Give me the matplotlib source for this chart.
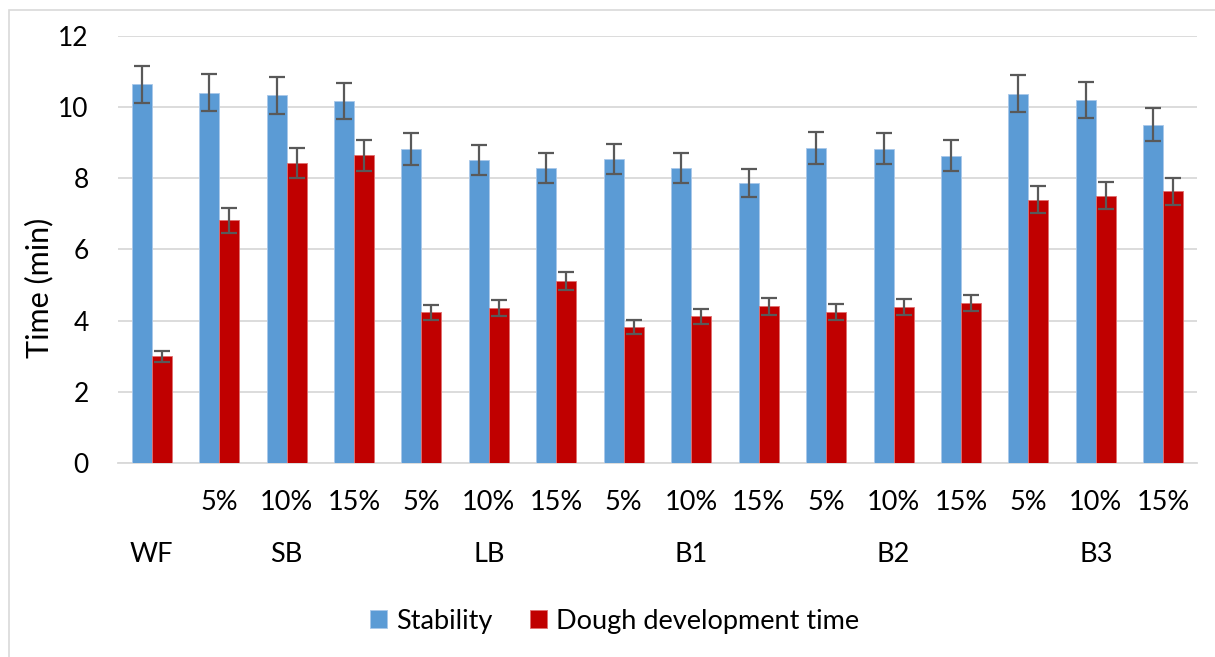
import matplotlib.pyplot as plt
import matplotlib.transforms as mtransforms
from matplotlib.patches import Rectangle
import numpy as np

plt.rcParams['font.family'] = ['Lato', 'DejaVu Sans']

# values
sub_labels = ['', '5%', '10%', '15%', '5%', '10%', '15%', '5%', '10%', '15%',
              '5%', '10%', '15%', '5%', '10%', '15%']
groups = ['WF', 'SB', 'LB', 'B1', 'B2', 'B3']
group_pos = [0, 2, 5, 8, 11, 14]

stability = [10.64, 10.40, 10.34, 10.17, 8.83, 8.52, 8.28, 8.54,
             8.28, 7.86, 8.85, 8.83, 8.64, 10.38, 10.21, 9.51]
stability_err = [0.53, 0.52, 0.52, 0.51, 0.45, 0.43, 0.42, 0.43,
                 0.42, 0.39, 0.45, 0.44, 0.44, 0.52, 0.51, 0.47]
ddt = [3.00, 6.82, 8.42, 8.65, 4.23, 4.35, 5.11, 3.82,
       4.12, 4.40, 4.24, 4.38, 4.50, 7.40, 7.51, 7.63]
ddt_err = [0.16, 0.35, 0.42, 0.44, 0.22, 0.22, 0.26, 0.20,
           0.21, 0.23, 0.22, 0.22, 0.23, 0.38, 0.38, 0.38]

blue = '#5b9bd5'
red = '#c00000'
err_col = '#595959'

fig = plt.figure(figsize=(12.15, 6.57), dpi=100)
ax = fig.add_axes([0.0971, 0.2953, 0.8881, 0.6499])

x = np.arange(len(stability))
w = 0.297
ekw = dict(ecolor=err_col, elinewidth=1.6, capsize=5.5, capthick=1.6)
ax.bar(x - w / 2, stability, w, color=blue, edgecolor='#a9c8ea', linewidth=0.6,
       yerr=stability_err, error_kw=ekw, label='Stability', zorder=3)
ax.bar(x + w / 2, ddt, w, color=red, edgecolor='#e07070', linewidth=0.6,
       yerr=ddt_err, error_kw=ekw, label='Dough development time', zorder=3)

ax.set_xlim(-0.5, len(x) - 0.5)
ax.set_ylim(0, 12)
ax.set_yticks(range(0, 13, 2))
ax.yaxis.grid(True, color='#d9d9d9', linewidth=1.3, zorder=0)
ax.set_axisbelow(True)
for s in ['top', 'right', 'left']:
    ax.spines[s].set_visible(False)
ax.spines['bottom'].set_color('#d9d9d9')
ax.spines['bottom'].set_linewidth(1.3)
ax.tick_params(axis='y', length=0, labelsize=19, pad=21)
ax.tick_params(axis='x', length=0, labelbottom=False)
ax.set_ylabel('Time (min)', fontsize=22)
ax.yaxis.set_label_coords(-0.060, 0.41)

# two-level category labels
trans = mtransforms.blended_transform_factory(ax.transData, fig.transFigure)
for i, lab in enumerate(sub_labels):
    ax.text(i, 1 - 503 / 657, lab, transform=trans, ha='center', va='center',
            fontsize=19.5)
for p, g in zip(group_pos, groups):
    ax.text(p, 1 - 555 / 657, g, transform=trans, ha='center', va='center',
            fontsize=19.5)

fig.legend(loc='center', bbox_to_anchor=(0.506, 1 - 621 / 657), ncol=2,
           frameon=False, fontsize=19.5, handlelength=0.6, handleheight=0.6,
           handletextpad=0.35, columnspacing=1.4)

# chart area border (left/top visible in the reference)
fig.patches.append(Rectangle((9 / 1215, -0.1), 1.2, 1 - 10 / 657 + 0.1,
                             transform=fig.transFigure, fill=False,
                             edgecolor='#d9d9d9', linewidth=1.2))

fig.savefig('out.png', dpi=100)
